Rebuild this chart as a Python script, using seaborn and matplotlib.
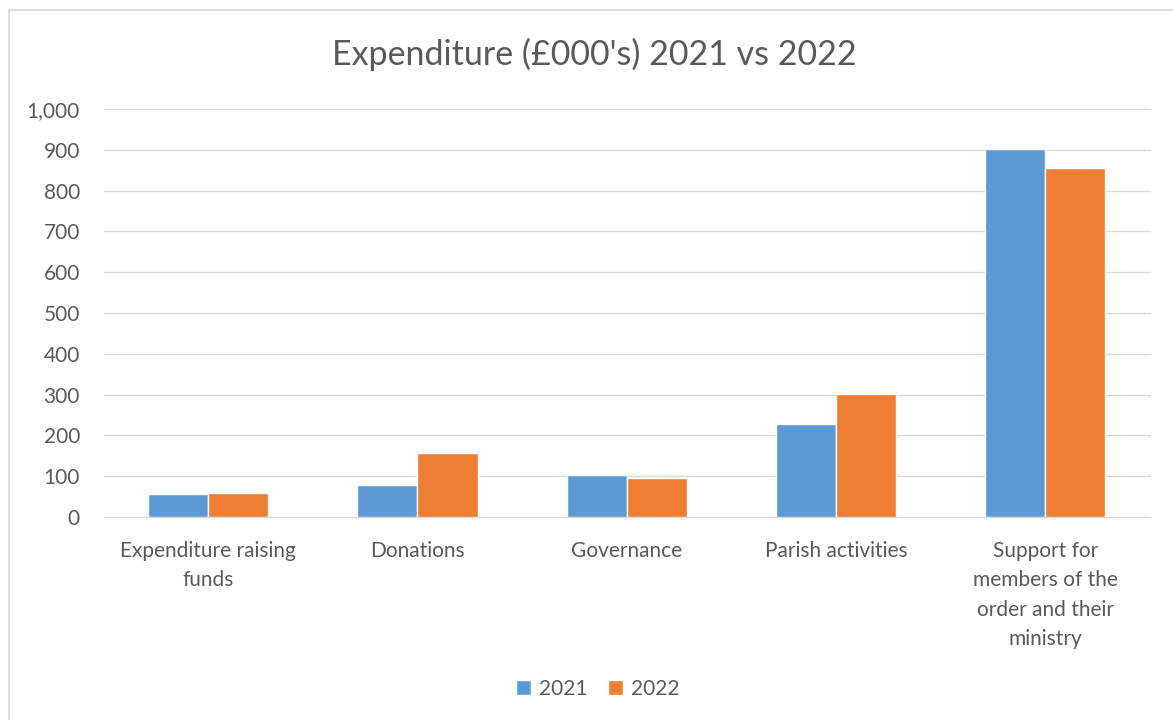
import matplotlib
matplotlib.use("Agg")
import matplotlib.pyplot as plt
from matplotlib.patches import Rectangle
from matplotlib.ticker import FuncFormatter
import seaborn as sns
import pandas as pd

categories = [
    "Expenditure raising\nfunds",
    "Donations",
    "Governance",
    "Parish activities",
    "Support for\nmembers of the\norder and their\nministry",
]
years = ["2021", "2022"]
values_2021 = [56, 79, 102, 229, 903]
values_2022 = [58, 156, 95, 302, 855]
y_ticks = [0, 100, 200, 300, 400, 500, 600, 700, 800, 900, 1000]
title = "Expenditure (£000's) 2021 vs 2022"

colors = {"2021": "#5B9BD5", "2022": "#ED7D31"}
text_color = "#595959"
grid_color = "#D9D9D9"

df = pd.DataFrame({
    "category": categories * 2,
    "year": [years[0]] * len(categories) + [years[1]] * len(categories),
    "value": values_2021 + values_2022,
})

sns.set_theme(style="white")
plt.rcParams["font.family"] = ["Lato", "DejaVu Sans"]

fig = plt.figure(figsize=(11.73, 7.2), dpi=100)
ax = fig.add_axes([103.5 / 1173, 1 - 517 / 720, (1150 - 103.5) / 1173, (517 - 109) / 720])

sns.barplot(data=df, x="category", y="value", hue="year", order=categories,
            hue_order=years, palette=colors, width=0.574, gap=0,
            saturation=1, ax=ax, legend=True)

ax.set_xlim(-0.5, len(categories) - 0.5)
ax.set_ylim(0, 1000)
ax.set_yticks(y_ticks)
ax.yaxis.set_major_formatter(FuncFormatter(lambda v, p: f"{int(v):,}"))
ax.set_xlabel("")
ax.set_ylabel("")

for v in y_ticks:
    ax.axhline(v, color=grid_color, lw=1.0, zorder=0, clip_on=False)

for s in ax.spines.values():
    s.set_visible(False)

ax.tick_params(axis="y", length=0, pad=17, labelsize=15, labelcolor=text_color)
ax.tick_params(axis="x", length=0, pad=17, labelsize=15, labelcolor=text_color)
for lbl in ax.get_xticklabels():
    lbl.set_linespacing(1.6)
    lbl.set_horizontalalignment("center")
    lbl.set_verticalalignment("top")

leg = ax.legend(loc="center", bbox_to_anchor=(598 / 1173, 1 - 689 / 720),
                bbox_transform=fig.transFigure, ncol=2, frameon=False,
                fontsize=15, handlelength=0.7, handleheight=0.7,
                handletextpad=0.4, columnspacing=1.0)
for t in leg.get_texts():
    t.set_color(text_color)

fig.text(594 / 1173, 1 - 54 / 720, title, ha="center", va="center",
         fontsize=24.5, color=text_color)

fig.patches.append(Rectangle((8.5 / 1173, -0.01), 1.02, 1 - 10 / 720 + 0.01,
                             transform=fig.transFigure, fill=False,
                             edgecolor=grid_color, lw=1.2, clip_on=False))

fig.savefig("out.png", dpi=100, facecolor="white")
